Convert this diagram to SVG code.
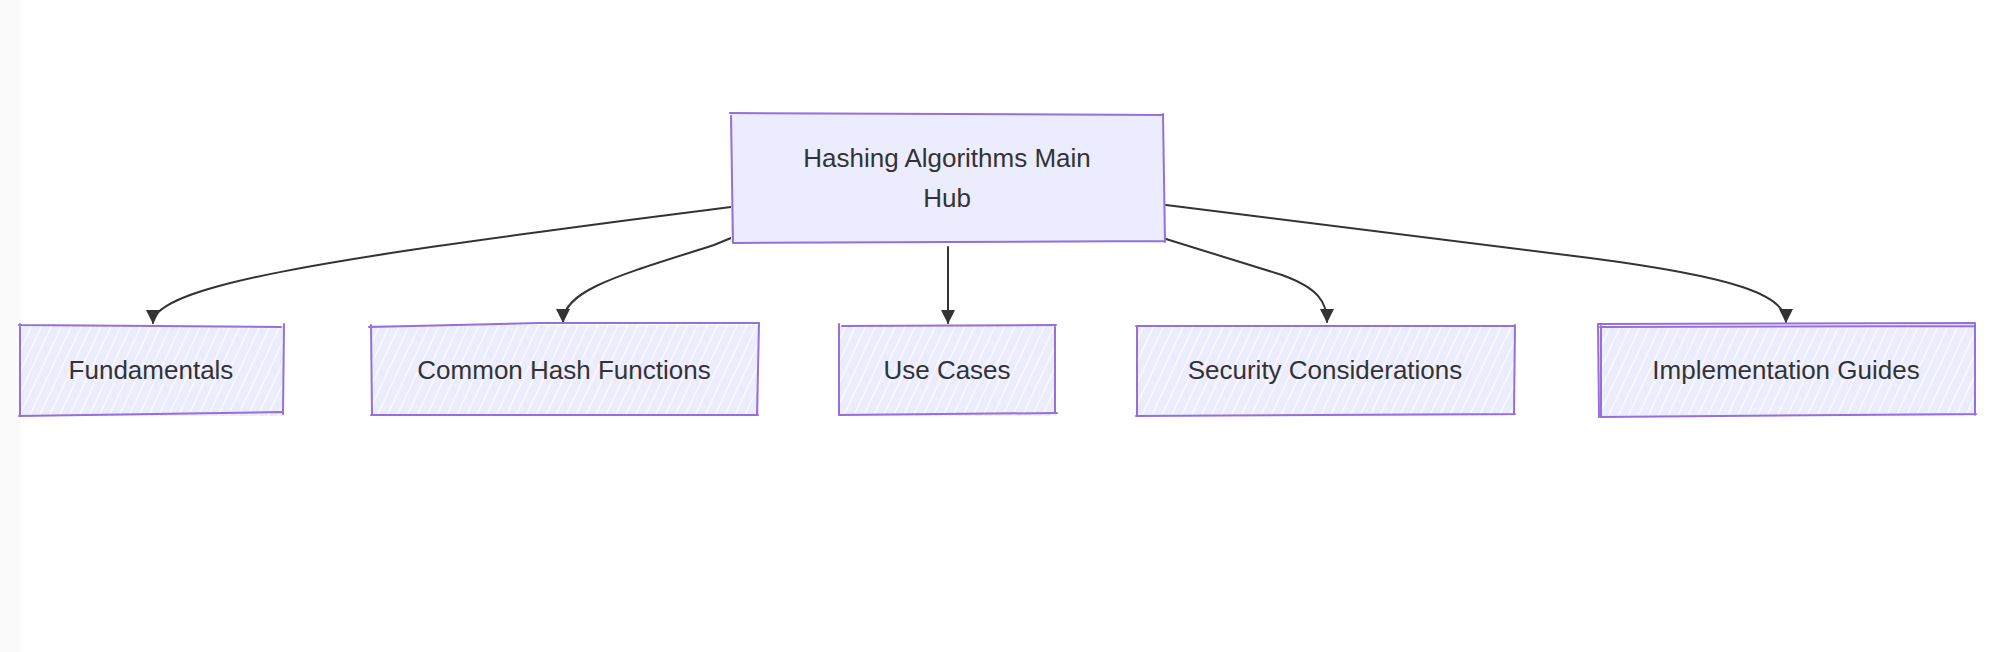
<svg xmlns="http://www.w3.org/2000/svg" width="2000" height="652" viewBox="0 0 2000 652">
  <defs>
    <style>
      .box { stroke: #9370DB; stroke-width: 2; fill: none; stroke-linejoin: round; stroke-linecap: round; }
      .hatch { fill: url(#hatch); }
      .solid { fill: #ECECFF; }
      .label { font-family: "Liberation Sans", Arial, sans-serif; font-size: 26px; fill: #333333; text-anchor: middle; }
      .edge { fill: none; stroke: #333333; stroke-width: 2; stroke-linecap: round; }
    </style>
    <pattern id="hatch" patternUnits="userSpaceOnUse" width="9" height="9" patternTransform="rotate(25)">
      <rect width="9" height="9" fill="#ECECFF"/>
      <line x1="4.5" y1="0" x2="4.5" y2="9" stroke="#ffffff" stroke-width="1.3" stroke-opacity="0.85"/>
    </pattern>
    <marker id="arrow" viewBox="0 0 14 14" refX="13" refY="7" markerWidth="14" markerHeight="14" markerUnits="userSpaceOnUse" orient="auto">
      <path d="M0,0 L14,7 L0,14 Z" fill="#333333"/>
    </marker>
  </defs>

  <rect x="0" y="0" width="2000" height="652" fill="#ffffff"/>
  <rect x="0" y="0" width="21" height="652" fill="#fbfbfb"/>

  <g id="connectors">
    <path class="edge" marker-end="url(#arrow)" d="M731,207 L637,219 C340,258 153,285 153,323"/>
    <path class="edge" marker-end="url(#arrow)" d="M731,238 L714,245 C620,275 563,290 563,322"/>
    <path class="edge" marker-end="url(#arrow)" d="M948,247 L948,323"/>
    <path class="edge" marker-end="url(#arrow)" d="M1166,239 L1282,275 C1318,288 1327,302 1327,322"/>
    <path class="edge" marker-end="url(#arrow)" d="M1166,205 L1590,258 C1735,277 1786,295 1786,322"/>
  </g>

  <g id="hub">
    <rect class="solid" x="731" y="114" width="433" height="128"/>
    <path class="box" d="M730,113 L1163,115 M1163,114 L1165,242 M1165,241 L733,243 M733,243 L731,116"/>
    <text class="label" x="947" y="167">Hashing Algorithms Main</text>
    <text class="label" x="947" y="207">Hub</text>
  </g>

  <g id="fundamentals">
    <rect class="hatch" x="19" y="326" width="265" height="90"/>
    <path class="box" d="M19,325 L281,327 M284,324 L283,414 M282,412 L19,416 M20,415 L20,324"/>
    <text class="label" x="151" y="379">Fundamentals</text>
  </g>

  <g id="common">
    <rect class="hatch" x="371" y="325" width="388" height="90"/>
    <path class="box" d="M369,327 L540,323 L759,323 M759,323 L757,415 M758,415 L371,415 M372,415 L371,325"/>
    <text class="label" x="564" y="379">Common Hash Functions</text>
  </g>

  <g id="usecases">
    <rect class="hatch" x="839" y="326" width="217" height="90"/>
    <path class="box" d="M842,326 L1056,325 M1055,325 L1055,413 M1057,413 L839,415 M839,415 L839,324"/>
    <text class="label" x="947" y="379">Use Cases</text>
  </g>

  <g id="security">
    <rect class="hatch" x="1137" y="326" width="378" height="90"/>
    <path class="box" d="M1136,326 L1515,326 M1515,325 L1514,414 M1515,414 L1136,416 M1137,416 L1137,326"/>
    <text class="label" x="1325" y="379">Security Considerations</text>
  </g>

  <g id="implementation">
    <rect class="hatch" x="1599" y="326" width="376" height="90"/>
    <path class="box" d="M1598,324 L1975,323 M1600,327 L1975,326 M1975,323 L1975,415 M1976,414 L1599,417 M1599,417 L1598,324 M1601,326 L1601,416"/>
    <text class="label" x="1786" y="379">Implementation Guides</text>
  </g>
</svg>
